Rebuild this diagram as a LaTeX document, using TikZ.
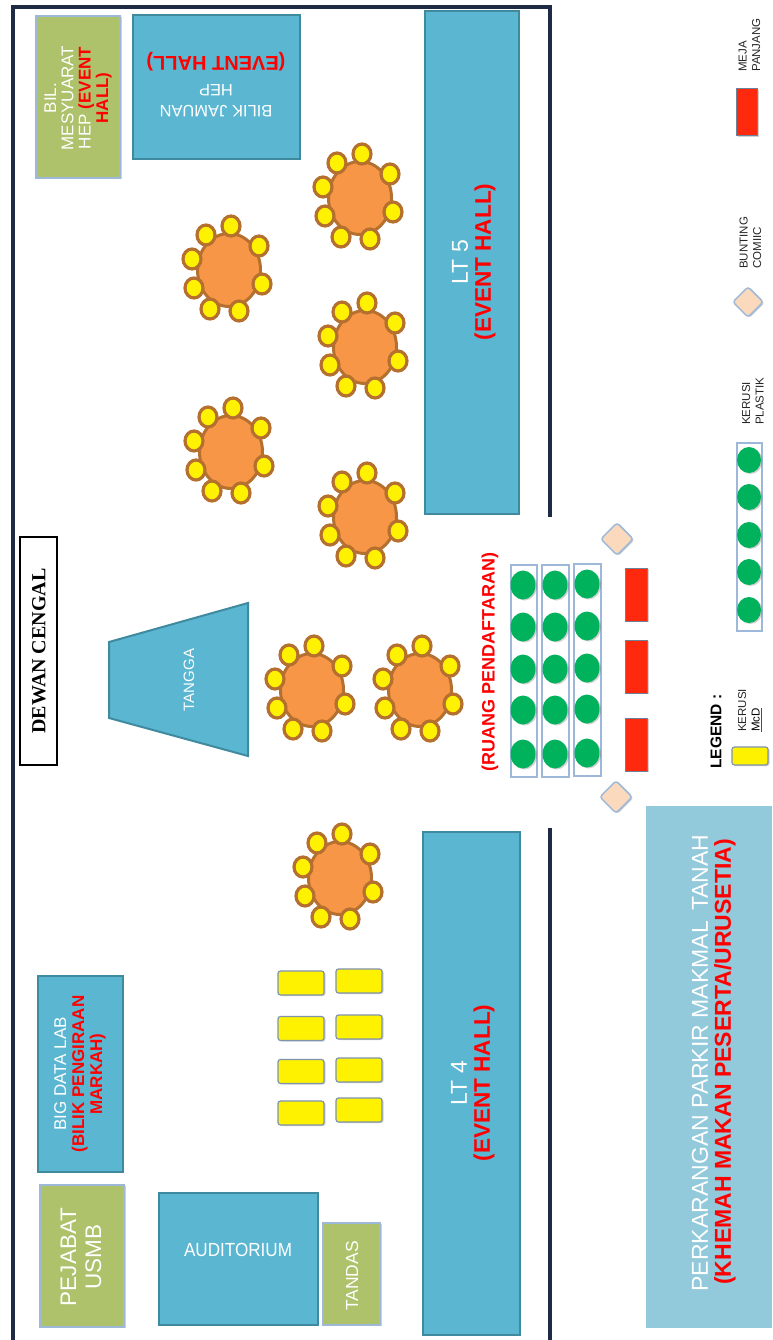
\documentclass[tikz,border=0pt]{standalone}
\usepackage{graphicx}
\usepackage{fontspec}
\setmainfont{Liberation Sans}
\newfontfamily\serifbold{Liberation Serif}
\usetikzlibrary{calc,shapes.geometric,shadows}
\definecolor{roomblue}{HTML}{5AB6D1}
\definecolor{roomedge}{HTML}{3F8A9F}
\definecolor{roomgreen}{HTML}{ADC26B}
\definecolor{softedge}{HTML}{9DB8D9}
\definecolor{tableorange}{HTML}{F79646}
\definecolor{tableedge}{HTML}{B5702F}
\definecolor{chairgreen}{HTML}{00B25C}
\definecolor{tablered}{HTML}{FF2A0E}
\definecolor{peach}{HTML}{FBD9BC}
\definecolor{panelblue}{HTML}{92C9DB}
\definecolor{wallcolor}{HTML}{1F2A44}
\newcommand{\fsz}[2]{\fontsize{#1}{#2}\selectfont}
\newcommand{\redb}[1]{\textcolor{red}{\bfseries #1}}
\tikzset{
  softshadow/.style={general shadow={shadow xshift=1.5pt,shadow yshift=-1pt,fill=black!60,opacity=.3}},
  blueroom/.style={draw=roomedge,line width=2.4pt,fill=roomblue,inner sep=0pt},
  greenroom/.style={draw=softedge,line width=1.2pt,fill=roomgreen,inner sep=0pt,softshadow},
  panel/.style={fill=panelblue,inner sep=0pt},
  tbl/.style={ellipse,draw=tableedge,line width=3pt,fill=tableorange,minimum width=63pt,minimum height=73pt,inner sep=0pt},
  seat/.style={ellipse,draw=tableedge,line width=3.2pt,fill=yellow,minimum width=18pt,minimum height=20pt,inner sep=0pt},
  mcd/.style={rectangle,rounded corners=2.5pt,draw=softedge!80!black,line width=1.2pt,fill=yellow,minimum width=46pt,minimum height=24pt,inner sep=0pt,softshadow},
  strip/.style={draw=softedge,line width=1.2pt,fill=white,inner sep=0pt},
  plastik/.style={ellipse,fill=chairgreen,minimum width=25pt,minimum height=29pt,inner sep=0pt,softshadow},
  meja/.style={draw=softedge!70!black,line width=1pt,fill=tablered,inner sep=0pt,softshadow},
  bunting/.style={diamond,aspect=1,rounded corners=3pt,draw=softedge,line width=1.5pt,fill=peach,inner sep=0pt,minimum size=33pt,softshadow},
  wall/.style={draw=wallcolor,line width=3.2pt},
  txt/.style={text=white,align=center,inner sep=0pt,rotate=90},
  legendtxt/.style={text=black!85,align=left,inner sep=0pt,rotate=90,anchor=west,font=\fsz{11.5}{13.5}},
}
% name, x1, y1, x2, y2, style
\newcommand{\roomrect}[6]{%
  \pgfmathsetmacro{\rw}{#4-#2}\pgfmathsetmacro{\rh}{#5-#3}%
  \pgfmathsetmacro{\rcx}{(#4+#2)/2}\pgfmathsetmacro{\rcy}{(#5+#3)/2}%
  \node[#6,minimum width=\rw pt,minimum height=\rh pt] (#1) at (\rcx,\rcy) {};}
\newcommand{\diningtable}[3]{%
  \node[tbl] (#1) at (#2,#3) {};
  \foreach \dx/\dy [count=\k] in {2/-44,-23/-35,30/-24,-37/-11,-35/18,33/14,-19/39,10/41}
    \node[seat] (#1s\k) at ($(#1)+(\dx,\dy)$) {};}
\begin{document}
\begin{tikzpicture}[x=1pt,y=-1pt]
\useasboundingbox (0,0) rectangle (772,1340);
\fill[white] (0,0) rectangle (772,1340);
% walls
\coordinate (wa) at (13,1340);
\coordinate (wb) at (13,7);
\coordinate (wc) at (550,7);
\coordinate (wd) at (550,517);
\coordinate (we) at (550,828);
\coordinate (wf) at (550,1340);
\draw[wall] (wa) -- (wb) -- (wc) -- (wd);
\draw[wall] (we) -- (wf);
% rooms
\roomrect{bil}{36}{16}{120}{178}{greenroom}
\roomrect{jamuan}{133}{15}{300}{159}{blueroom}
\roomrect{lt5}{425}{11}{519}{514}{blueroom}
\roomrect{lt4}{423}{832}{520}{1335}{blueroom}
\roomrect{bigdata}{38}{976}{123}{1172}{blueroom}
\roomrect{pejabat}{40}{1185}{124}{1327}{greenroom}
\roomrect{audit}{159}{1193}{318}{1325}{blueroom}
\roomrect{tandas}{323}{1223}{380}{1325}{greenroom}
\roomrect{parkir}{646}{806}{772}{1328}{panel}
\roomrect{dewan}{20}{537}{57}{765}{draw=black,line width=1.2pt,fill=white}
% room labels
\node[txt,font=\fsz{17}{17.3}] (bilt) at (78,98) {BIL.\\ MESYUARAT\\ HEP \redb{(EVENT}\\ \redb{HALL)}};
\node[text=white,inner sep=0pt,rotate=180,font=\fsz{16.5}{17}] (jama) at (216,111) {BILIK JAMUAN};
\node[text=white,inner sep=0pt,rotate=180,font=\fsz{16.5}{17}] (jamb) at (216,90) {HEP};
\node[inner sep=0pt,rotate=180,font=\fsz{20}{20}] (jamc) at (216,62) {\redb{(EVENT HALL)}};
\node[txt,font=\fsz{23}{23}] (lt5a) at (460,262) {LT 5};
\node[txt,font=\fsz{22.6}{23}] (lt5b) at (485,262) {\redb{(EVENT HALL)}};
\node[txt,font=\fsz{23}{23}] (lt4a) at (459,1083) {LT 4};
\node[txt,font=\fsz{22.6}{23}] (lt4b) at (484,1083) {\redb{(EVENT HALL)}};
\node[txt,font=\fsz{17}{18}] (bigt) at (80,1074) {BIG DATA LAB\\ \redb{(BILIK PENGIRAAN}\\ \redb{MARKAH)}};
\node[txt,font=\fsz{22.5}{25}] (pejt) at (81,1257) {PEJABAT\\ USMB};
\node[text=white,inner sep=0pt,font=\fsz{19}{19}] (audt) at (238,1250) {\scalebox{0.9}[1]{AUDITORIUM}};
\node[txt,font=\fsz{17.5}{18}] (tandt) at (352,1276) {TANDAS};
\node[txt,font=\fsz{23}{25}] (parka) at (700,1063) {PERKARANGAN PARKIR MAKMAL\, TANAH};
\node[txt,font=\fsz{23}{25}] (parkb) at (725,1062) {\redb{(KHEMAH MAKAN PESERTA/URUSETIA)}};
\node[text=black,rotate=90,inner sep=0pt] (dewt) at (39,651) {\serifbold\bfseries\fsz{20}{20}DEWAN CENGAL};
% stairs
\coordinate (ta) at (109,642);
\coordinate (tb) at (248,603);
\coordinate (tc) at (248,756);
\coordinate (td) at (109,718);
\draw[roomedge,line width=2pt,fill=roomblue] (ta) -- (tb) -- (tc) -- (td) -- cycle;
\node[txt,font=\fsz{15}{15}] (tanggat) at (189,680) {TANGGA};
% round tables
\diningtable{a}{360}{198}
\diningtable{b}{229}{270}
\diningtable{c}{365}{347}
\diningtable{d}{231}{452}
\diningtable{e}{365}{517}
\diningtable{f}{312}{690}
\diningtable{g}{420}{690}
\diningtable{h}{340}{878}
% McD chairs
\foreach \yy [count=\i] in {983,1028.5,1071.5,1113}
  \node[mcd] (ma\i) at (301,\yy) {};
\foreach \yy [count=\i] in {981,1027,1070,1110}
  \node[mcd] (mb\i) at (359,\yy) {};
% registration
\node[text=red,rotate=90,inner sep=0pt,font=\fsz{18}{18}\bfseries] (ruang) at (490,662) {(RUANG PENDAFTARAN)};
\roomrect{s1}{511}{565}{537}{777}{strip}
\roomrect{s2}{542}{565}{569}{777}{strip}
\roomrect{s3}{574}{564}{601}{776}{strip}
\foreach \yy [count=\i] in {585,627,669,710,754}{
  \node[plastik] (pa\i) at (523,\yy) {};
  \node[plastik] (pb\i) at (555,\yy) {};
  \node[plastik] (pc\i) at (587,\yy-1) {};
}
\roomrect{r1}{625}{568}{647}{621}{meja}
\roomrect{r2}{625}{640}{647}{693}{meja}
\roomrect{r3}{625}{718}{647}{771}{meja}
\node[bunting] (d1) at (617,539) {};
\node[bunting] (d2) at (616,797) {};
% legend
\node[text=black,rotate=90,inner sep=0pt,anchor=west,font=\fsz{15.5}{16}\bfseries] (legt) at (716,769) {LEGEND :};
\node[mcd,minimum width=36pt,minimum height=18pt] (lm) at (750,756) {};
\node[legendtxt] (lmt) at (750,732) {KERUSI\\ \textcolor{red}{\underline{\textcolor{black}{McD}}}};
\roomrect{ls}{737}{443}{762}{631}{strip}
\foreach \yy [count=\i] in {460,497,535,572,610}
  \node[plastik,minimum width=24pt,minimum height=26pt] (lp\i) at (749,\yy) {};
\node[legendtxt] (lst) at (753,425) {KERUSI\\ PLASTIK};
\node[bunting,minimum size=31pt] (ld) at (748,302) {};
\node[legendtxt] (ldt) at (750.5,269) {BUNTING\\ COMIIC};
\roomrect{lr}{736}{89}{757}{136}{meja}
\node[legendtxt] (lrt) at (749.5,72) {MEJA\\ PANJANG};
\end{tikzpicture}
\end{document}
